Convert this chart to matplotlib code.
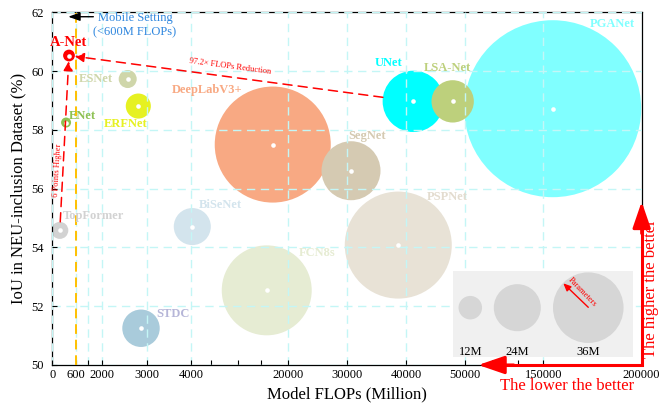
import numpy as np
import matplotlib
matplotlib.use("Agg")
import matplotlib.pyplot as plt
from matplotlib.patches import Rectangle
from matplotlib.lines import Line2D

plt.rcParams['font.family'] = ['Liberation Serif', 'DejaVu Serif']

# ---------------- data ----------------
models = ['PGANet', 'DeepLabV3+', 'PSPNet', 'FCN8s', 'UNet', 'SegNet', 'LSA-Net',
          'STDC', 'BiSeNet', 'ERFNet', 'ESNet', 'TopFormer', 'A-Net', 'ENet']
flops = [154800, 17480, 38700, 16490, 41250, 30680, 47930,
         2873, 4242, 2812, 2572, 190, 424, 350]            # Million FLOPs
iou = [58.72, 57.50, 54.08, 52.54, 58.97, 56.61, 58.97,
       51.25, 54.71, 58.81, 59.73, 54.58, 60.53, 58.25]    # IoU (%)
params = [90.3, 59.2, 54.6, 45.9, 31.3, 30.1, 21.6,
          19.1, 18.9, 12.8, 9.2, 8.7, 6.0, 5.1]            # Million parameters
bubble_colors = ['#80ffff', '#f8a983', '#e8e2d6', '#e6ecd3', '#00ffff', '#d5cab2', '#bdd07c',
                 '#a9cbdb', '#d3e4ed', '#e6f121', '#cfd6aa', '#d2d2d2', '#ff0000', '#8ec153']
label_colors = ['#80ffff', '#f8a983', '#e3dccf', '#e6ecd3', '#00ffff', '#d5cab2', '#bdd07c',
                '#b6b6d8', '#d3e4ed', '#e6f121', '#cfd6aa', '#d2d2d2', '#ff0000', '#8ec153']

legend_params = [12, 24, 36]
legend_labels = ['12M', '24M', '36M']

x_major = [0, 600, 1000, 2000, 3000, 4000, 20000, 30000, 40000, 50000, 150000, 200000]
x_major_labels = ['0', '600', '', '2000', '3000', '4000', '20000', '30000', '40000',
                  '50000', '150000', '200000']
x_minor = [7400, 11800, 15600, 84000, 118000]
y_ticks = [50, 52, 54, 56, 58, 60, 62]

# ---------------- layout ----------------
DPI = 100
PX_PER_M = 0.98          # bubble radius in pixels per million parameters
PT = 72.0 / DPI          # points per pixel

# piecewise-linear FLOPs axis
brk_vals = np.array([0, 600, 1000, 2000, 3000, 4000, 20000, 30000, 40000, 50000, 150000, 200000], float)
brk_pos = np.array([0, .04, .06, .085, .16, .235, .40, .50, .60, .70, .833, 1.0])


def fwd(v):
    return np.interp(v, brk_vals, brk_pos)


def inv(p):
    return np.interp(p, brk_pos, brk_vals)


def radius_pt(m):
    return m * PX_PER_M * PT


def marker_area(m):
    return (2 * radius_pt(m)) ** 2


# label offsets in points (dx, dy)
label_offsets = {
    'A-Net': (0, 9.2), 'ENet': (11.9, 4.7), 'ESNet': (-22.6, 0), 'ERFNet': (-9.0, -13.2),
    'DeepLabV3+': (-47.5, 39.4), 'UNet': (-18, 27.4), 'LSA-Net': (-4, 24.2),
    'PGANet': (42.7, 61), 'SegNet': (11.9, 25), 'PSPNet': (35.1, 34.3),
    'TopFormer': (24.5, 10.1), 'BiSeNet': (20.2, 15.6), 'STDC': (23, 10.3),
    'FCN8s': (36.5, 26.6),
}

fig = plt.figure(figsize=(6.59, 4.09), dpi=DPI)
ax = fig.add_axes([0.0794, 0.1076, 0.8943, 0.8623])
ax.set_xscale('function', functions=(fwd, inv))
ax.set_xlim(0, 200000)
ax.set_ylim(50, 62)

# bubbles
ax.scatter(flops, iou, s=[marker_area(p) for p in params], c=bubble_colors,
           linewidths=0, zorder=2)
ax.scatter(flops, iou, s=(4.6 * PT) ** 2, c='white', linewidths=0, zorder=3)

for name, x, y, col in zip(models, flops, iou, label_colors):
    fs = 10.5 if name == 'A-Net' else 9
    ax.annotate(name, (x, y), xytext=label_offsets[name], textcoords='offset points',
                ha='center', va='center', fontsize=fs, fontweight='bold', color=col, zorder=4)

# axes styling
ax.set_xticks(x_major)
ax.set_xticklabels(x_major_labels)
ax.set_xticks(x_minor, minor=True)
ax.set_yticks(y_ticks)
ax.tick_params(axis='both', which='both', direction='in', length=3.5, width=0.8,
               labelsize=9)
ax.tick_params(axis='x', pad=3)
ax.tick_params(axis='y', pad=6)
ax.set_axisbelow(False)
ax.grid(True, which='major', color='#c4f6f6', ls=(0, (6, 4)), lw=1.0)
for sp in ax.spines.values():
    sp.set_linewidth(0.9)

ax.set_xlabel('Model FLOPs (Million)', fontsize=12, labelpad=4)
ax.set_ylabel('IoU in NEU-inclusion Dataset (%)', fontsize=12, labelpad=4)

# mobile setting boundary
ax.axvline(600, color='#ffc000', lw=1.4, ls=(0, (5, 3)), zorder=2.6)
ax.annotate('', xy=(0.027, 0.9875), xytext=(0.0696, 0.9875), xycoords='axes fraction',
            arrowprops=dict(arrowstyle='-|>,head_length=0.7,head_width=0.25', color='black',
                            lw=1.0, shrinkA=0, shrinkB=0), zorder=5)
ax.text(0.1403, 0.964, 'Mobile Setting\n(<600M FLOPs)', transform=ax.transAxes,
        ha='center', va='center', fontsize=9, color='#2e86de', linespacing=1.25, zorder=5)

# comparison arrows
i_a = models.index('A-Net')
i_u = models.index('UNet')
i_t = models.index('TopFormer')
dash_arrow = dict(arrowstyle='-|>,head_length=0.55,head_width=0.28', color='red', lw=1.1,
                  ls=(0, (6, 4)))
ax.annotate('', xy=(flops[i_a], iou[i_a]), xytext=(flops[i_u], iou[i_u]),
            arrowprops=dict(dash_arrow, shrinkA=radius_pt(params[i_u]),
                            shrinkB=radius_pt(params[i_a])), zorder=5)
ax.annotate('', xy=(flops[i_a], iou[i_a]), xytext=(flops[i_t], iou[i_t]),
            arrowprops=dict(dash_arrow, shrinkA=radius_pt(params[i_t]),
                            shrinkB=radius_pt(params[i_a])), zorder=5)
ax.annotate('97.2× FLOPs Reduction', (flops[i_a], iou[i_a]), xytext=(116, -8),
            textcoords='offset points', ha='center', va='center', fontsize=6,
            color='red', rotation=-7.6, zorder=5)
ax.annotate('6 Points Higher', (flops[i_t], iou[i_t]), xytext=(-1.5, 43),
            textcoords='offset points', ha='center', va='center', fontsize=6,
            color='red', rotation=86.7, zorder=5)

# parameter-size key
ax.add_patch(Rectangle((0.6803, 0.0235), 0.3045, 0.243, transform=ax.transAxes,
                       facecolor='#f0f0f0', edgecolor='none', zorder=3))
key_x = [0.7092, 0.789, 0.9094]
ax.scatter(key_x, [0.1625] * 3, s=[marker_area(p) for p in legend_params], c='#d6d6d6',
           linewidths=0, transform=ax.transAxes, zorder=3.2, clip_on=False)
for kx, lab in zip(key_x, legend_labels):
    ax.text(kx, 0.0377, lab, transform=ax.transAxes, ha='center', va='center',
            fontsize=9, zorder=3.3)
ax.annotate('', xy=(0.867, 0.2316), xytext=(0.9094, 0.1636), xycoords='axes fraction',
            arrowprops=dict(arrowstyle='-|>,head_length=0.45,head_width=0.2', color='red',
                            lw=1.0, shrinkA=0, shrinkB=0), zorder=3.4)
ax.text(0.8994, 0.2063, 'Parameters', transform=ax.transAxes, ha='center', va='center',
        fontsize=6, color='red', rotation=-46, zorder=3.4)

# "lower / higher is better" arrows
tip_x, tip_y = 0.7228, 0.463
shaft = Line2D([tip_x + 0.03, 1.0, 1.0], [0, 0, tip_y - 0.05], transform=ax.transAxes,
               color='red', lw=2.2, solid_joinstyle='miter', solid_capstyle='butt',
               clip_on=False, zorder=6)
ax.add_line(shaft)
head = dict(arrowstyle='-|>,head_length=1.6,head_width=0.55', color='red', lw=2.2,
            shrinkA=0, shrinkB=0)
ax.annotate('', xy=(tip_x, 0), xytext=(tip_x + 0.06, 0), xycoords='axes fraction',
            arrowprops=head, annotation_clip=False, zorder=6)
ax.annotate('', xy=(1.0, tip_y), xytext=(1.0, tip_y - 0.09), xycoords='axes fraction',
            arrowprops=head, annotation_clip=False, zorder=6)
ax.text(0.8728, -0.0605, 'The lower the better', transform=ax.transAxes, ha='center',
        va='center', fontsize=12, color='red')
ax.text(1.0165, 0.2155, 'The higher the better', transform=ax.transAxes, ha='center',
        va='center', fontsize=12, color='red', rotation=90)

fig.savefig('out.png', dpi=DPI)
